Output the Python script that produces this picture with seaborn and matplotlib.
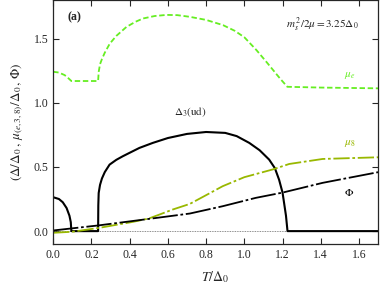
import numpy as np
import pandas as pd
import matplotlib
matplotlib.use("Agg")
import matplotlib.pyplot as plt
import seaborn as sns

# valores (T/Delta0)
t_mue = [0.0, 0.03, 0.06, 0.08, 0.095, 0.15, 0.235, 0.238, 0.245, 0.255, 0.27, 0.296, 0.33, 0.383,
         0.43, 0.47, 0.53, 0.593, 0.65, 0.715, 0.8, 0.889, 0.95, 1.0, 1.064, 1.12, 1.186, 1.225,
         1.4, 1.7]
mu_e = [1.241, 1.235, 1.215, 1.19, 1.169, 1.169, 1.169, 1.24, 1.30, 1.34, 1.39, 1.46, 1.52, 1.59,
        1.63, 1.656, 1.675, 1.684, 1.682, 1.669, 1.645, 1.604, 1.56, 1.51, 1.409, 1.31, 1.19, 1.124,
        1.118, 1.112]

t_delta = [0.0, 0.03, 0.05, 0.07, 0.085, 0.092, 0.095, 0.235, 0.236, 0.238, 0.245, 0.255, 0.27,
           0.295, 0.33, 0.364, 0.4, 0.451, 0.521, 0.6, 0.7, 0.8, 0.9, 0.96, 1.026, 1.08, 1.13,
           1.16, 1.182, 1.2, 1.208, 1.218, 1.226, 1.7]
delta3 = [0.264, 0.25, 0.225, 0.18, 0.12, 0.07, 0.0, 0.0, 0.2, 0.297, 0.36, 0.41, 0.46,
          0.518, 0.555, 0.583, 0.61, 0.648, 0.687, 0.725, 0.757, 0.772, 0.765, 0.74, 0.687, 0.63,
          0.557, 0.49, 0.40, 0.30, 0.22, 0.12, 0.0, 0.0]

t_mu8 = [0.0, 0.1, 0.243, 0.417, 0.5, 0.556, 0.625, 0.715, 0.8, 0.887, 1.0, 1.148, 1.235, 1.41, 1.7]
mu8 = [-0.013, -0.005, 0.026, 0.072, 0.098, 0.129, 0.168, 0.212, 0.28, 0.35, 0.42, 0.48, 0.523, 0.562, 0.575]

t_phi = [0.0, 0.24, 0.5, 0.715, 0.887, 1.06, 1.2, 1.41, 1.7]
phi = [0.005, 0.045, 0.095, 0.137, 0.194, 0.259, 0.30, 0.376, 0.459]

xticks = [0.0, 0.2, 0.4, 0.6, 0.8, 1.0, 1.2, 1.4, 1.6]
yticks = [0.0, 0.5, 1.0, 1.5]

sns.set_style("ticks")
plt.rcParams['font.family'] = ['Liberation Serif', 'DejaVu Serif']
plt.rcParams['mathtext.fontset'] = 'stix'

fig = plt.figure(figsize=(3.8, 2.86), dpi=100)
ax = fig.add_axes([0.14, 0.147, 0.855, 0.853])

ax.axhline(0, color='0.4', lw=0.6, ls=(0, (1, 1)))
sns.lineplot(x=t_mue, y=mu_e, ax=ax, color='#66ee22', lw=1.3, ls=(0, (3, 1.5)),
             sort=False, estimator=None)
sns.lineplot(x=t_delta, y=delta3, ax=ax, color='black', lw=1.5, sort=False, estimator=None)
sns.lineplot(x=t_mu8, y=mu8, ax=ax, color='#99b800', lw=1.3, ls=(0, (9, 1.5, 1.5, 1.5)),
             sort=False, estimator=None)
sns.lineplot(x=t_phi, y=phi, ax=ax, color='black', lw=1.3, ls=(0, (14, 1.5, 1.5, 1.5)),
             sort=False, estimator=None)

ax.set_xlim(0, 1.7)
ax.set_ylim(-0.1, 1.8)
ax.set_xticks(xticks)
ax.set_yticks(yticks)
ax.set_xticklabels([f"{v:.1f}" for v in xticks])
ax.set_yticklabels([f"{v:.1f}" for v in yticks])
ax.tick_params(direction='in', top=True, right=True, length=4, width=0.8, labelsize=8.5)
for s in ax.spines.values():
    s.set_linewidth(0.9)

ax.set_xlabel(r'$T/\Delta_0$', fontsize=10, labelpad=6)
ax.set_ylabel(r'$(\Delta/\Delta_0\,,\,\mu_{(e,3,8)}/\Delta_0\,,\,\Phi)$', fontsize=9.5, labelpad=6,
              family=['DejaVu Sans'])

ax.text(0.075, 1.64, '(a)', fontsize=8.5, fontweight='bold')
ax.text(1.6, 1.58, r'$m_s^{\,2}/2\mu = 3.25\Delta_0$', fontsize=8, ha='right')
ax.text(1.52, 1.2, r'$\mu_e$', fontsize=8, color='#66ee22', family=['DejaVu Sans'])
ax.text(1.52, 0.67, r'$\mu_8$', fontsize=8, color='#99b800', family=['DejaVu Sans'])
ax.text(1.52, 0.27, r'$\Phi$', fontsize=8, color='black', family=['DejaVu Sans'])
ax.text(0.63, 0.9, r'$\Delta_3\mathrm{(ud)}$', fontsize=8, family=['DejaVu Sans'])

fig.savefig('out.png', dpi=100)
